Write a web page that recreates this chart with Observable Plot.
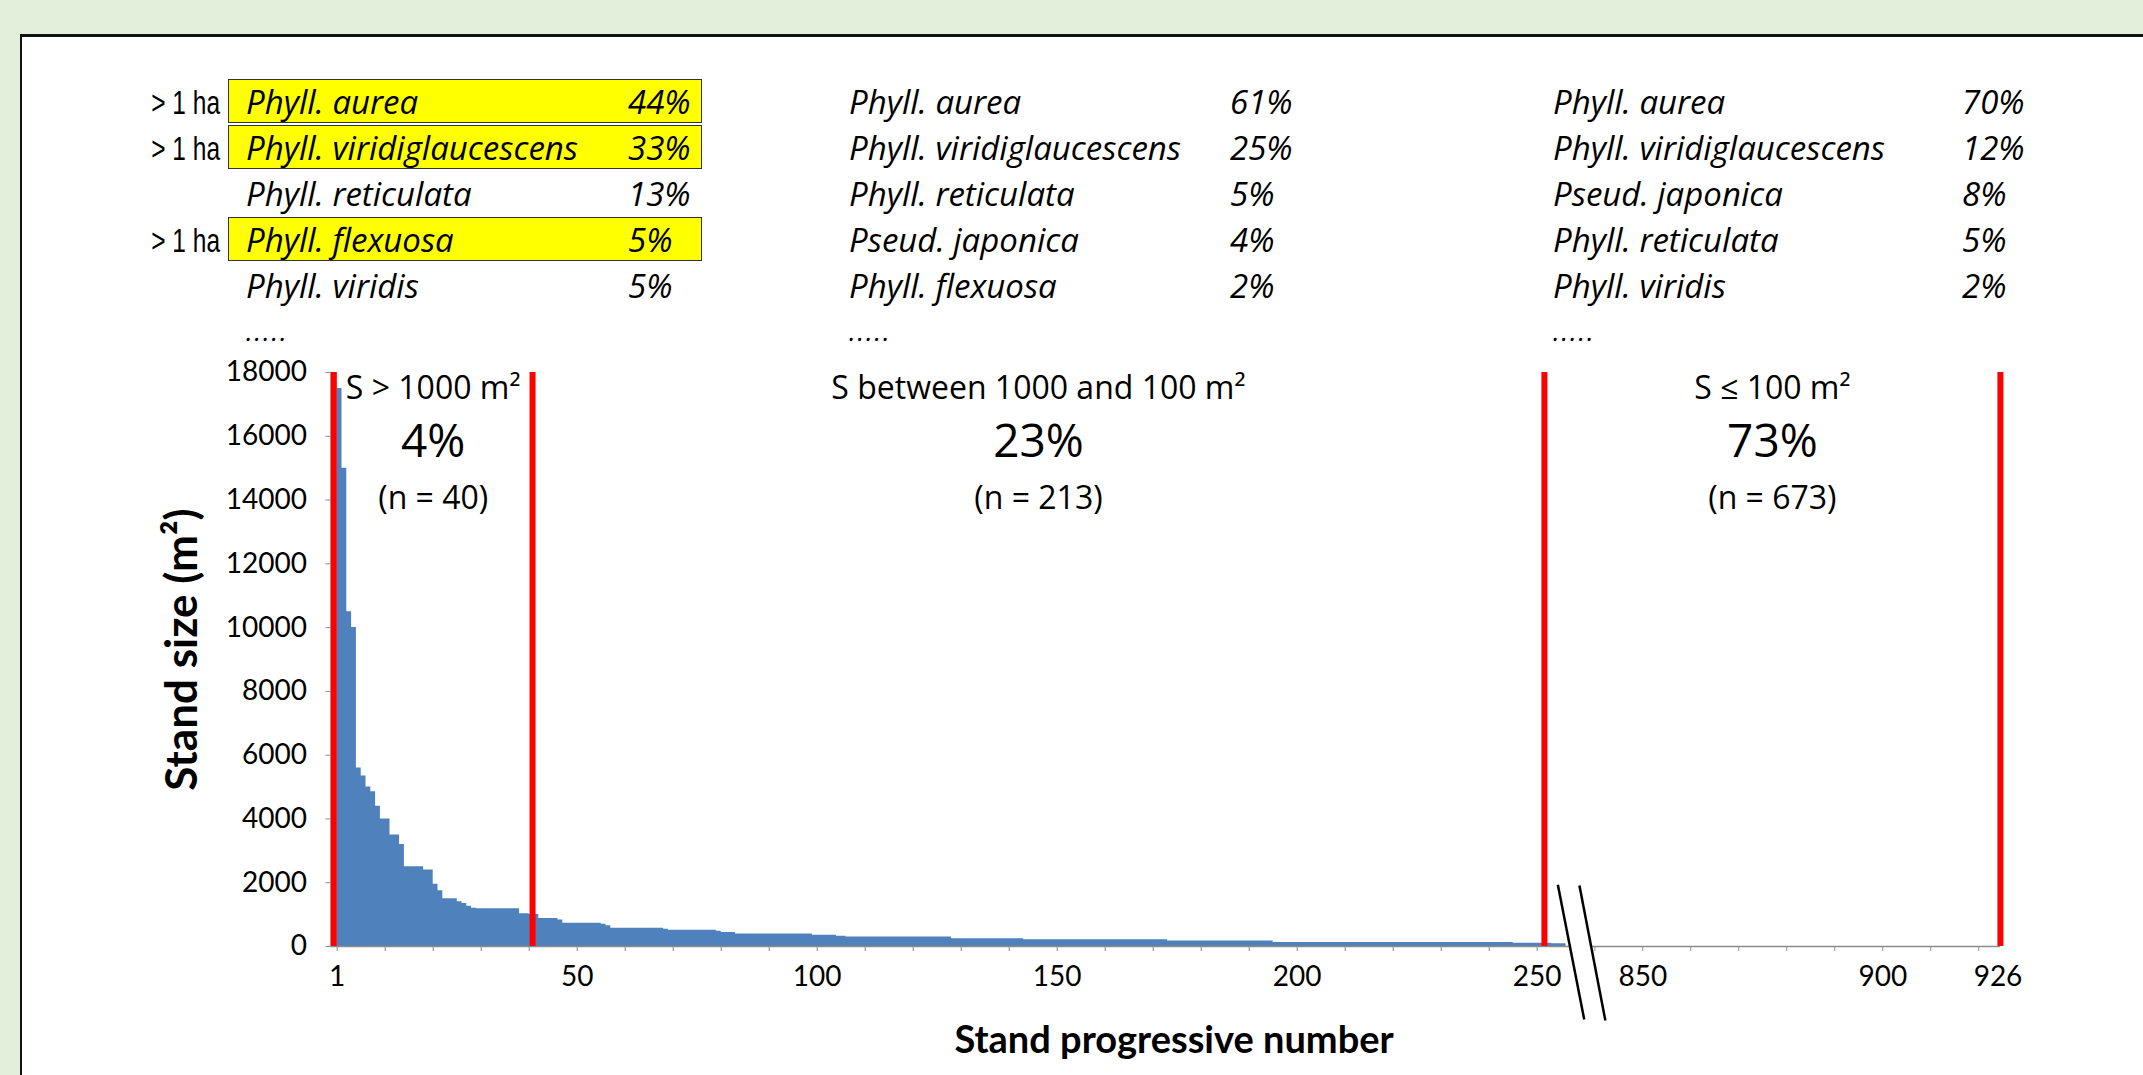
<!DOCTYPE html>
<html>
<head>
<meta charset="utf-8">
<script src="https://cdn.jsdelivr.net/npm/d3@7"></script>
<script src="https://cdn.jsdelivr.net/npm/@observablehq/plot@0.6"></script>
<style>
  html, body { margin: 0; padding: 0; background: #e2efda; width: 2143px; height: 1075px; overflow: hidden; }
  #stage { position: relative; width: 2143px; height: 1075px; }
  #panel { position: absolute; left: 20px; top: 34px; width: 2200px; height: 1100px; background: #fff;
           border-top: 3px solid #111; border-left: 2px solid #111; box-sizing: border-box; }
  #chart { position: absolute; left: 0; top: 0; }
  .cell { position: absolute; white-space: nowrap; font-family: "Open Sans", Lato, sans-serif; color: #000; }
  .sp { font-style: italic; font-size: 33px; line-height: 33px; }
  .dots { font-style: italic; font-size: 26px; line-height: 26px; letter-spacing: 2px; }
  .ha { font-family: "Liberation Sans", Arial, sans-serif; font-size: 34px; line-height: 34px; transform-origin: right center; }
  .box { position: absolute; background: #ffff00; border: 1.5px solid #333; box-sizing: border-box; }
</style>
</head>
<body>
<div id="stage">
  <div id="panel"></div>
  <div id="tables"></div>
  <div id="chart"></div>
</div>
<script>
// ---------------- data ----------------
// stand sizes (m²), sorted; each run starts at stand number stepStart[i] with size stepSize[i]
const stepStart = [1,2,3,4,5,6,7,8,9,10,12,14,15,19,21,22,23,26,27,28,29,30,39,41,43,47,48,56,57,58,69,70,80,81,84,100,105,107,129,144,174,196,246,254];
const stepSize  = [17500,15000,10500,10000,5600,5350,5000,4850,4400,4000,3500,3200,2500,2400,1950,1750,1500,1400,1350,1260,1200,1180,1030,1000,880,830,730,700,650,575,540,510,480,440,390,355,325,295,240,210,170,125,100,90];
const lastStandShown = 256;

// red class boundaries (stand number as read on the axis)
const redLineAt = [-0.7, 40.7, 251.5, 924.5];

// class annotations
const regionLabel = ["S > 1000 m²", "S between 1000 and 100 m²", "S \u2264 100 m²"];
const regionPct   = ["4%", "23%", "73%"];
const regionN     = ["(n = 40)", "(n = 213)", "(n = 673)"];

// axis ticks and labels
const yTicks = [0, 2000, 4000, 6000, 8000, 10000, 12000, 14000, 16000, 18000];
const xLabelText = ["1", "50", "100", "150", "200", "250", "850", "900", "926"];
const xLabelAt   = [0, 50, 100, 150, 200, 250, 850, 900, 924];
const xTickLeft  = d3.range(0, 251, 10);
const xTickRight = d3.range(840, 921, 10);
const rightOffset = 578;           // axis break: stands 257..~835 are skipped
const axisGap = [256.7, 261.2];    // gap in the axis line (axis units)
const breakMarks = [
  {x1: 254.3, y1: 1940, x2: 259.8, y2: -2290},
  {x1: 258.8, y1: 1910, x2: 264.2, y2: -2320}
];

// species composition tables
const sppLeft  = ["Phyll. aurea", "Phyll. viridiglaucescens", "Phyll. reticulata", "Phyll. flexuosa", "Phyll. viridis"];
const pctLeft  = ["44%", "33%", "13%", "5%", "5%"];
const bigLeft  = [true, true, false, true, false];
const sppMid   = ["Phyll. aurea", "Phyll. viridiglaucescens", "Phyll. reticulata", "Pseud. japonica", "Phyll. flexuosa"];
const pctMid   = ["61%", "25%", "5%", "4%", "2%"];
const sppRight = ["Phyll. aurea", "Phyll. viridiglaucescens", "Pseud. japonica", "Phyll. reticulata", "Phyll. viridis"];
const pctRight = ["70%", "12%", "8%", "5%", "2%"];

// ---------------- tables (HTML text) ----------------
const tables = document.getElementById("tables");
const rowBase = i => 114 + 46 * i;
function addCell(cls, txt, left, baseline, fs, transform) {
  const d = document.createElement("div");
  d.className = "cell " + cls;
  d.textContent = txt;
  d.style.left = left + "px";
  d.style.top = (baseline - 0.888 * fs) + "px";
  if (transform) d.style.transform = transform;
  tables.appendChild(d);
}
const tableCols = [
  {spp: sppLeft,  pct: pctLeft,  nameX: 246,  pctX: 628},
  {spp: sppMid,   pct: pctMid,   nameX: 849,  pctX: 1230},
  {spp: sppRight, pct: pctRight, nameX: 1553, pctX: 1962}
];
bigLeft.forEach((b, i) => {
  if (!b) return;
  const box = document.createElement("div");
  box.className = "box";
  box.style.left = "228px"; box.style.width = "474px";
  box.style.top = (rowBase(i) - 35) + "px"; box.style.height = "44px";
  tables.appendChild(box);
  addCell("ha", "> 1 ha", 220, rowBase(i) + 1, 34, "translateX(-100%) scaleX(0.72)");
});
tableCols.forEach(t => {
  t.spp.forEach((s, i) => {
    addCell("sp", s, t.nameX, rowBase(i), 33);
    addCell("sp", t.pct[i], t.pctX, rowBase(i), 33);
  });
  addCell("dots", ".....", t.nameX, rowBase(5) - 3, 26);
});

// ---------------- chart ----------------
const BLUE = "#4f81bd", RED = "#ff0000", AXIS = "#8c8c8c";
const OS = "'Open Sans', Lato, sans-serif";
const pos = v => (v > 500 ? v - rightOffset : v);
const xDomain = [-1.3, 350];

const steps = stepStart.map((s, i) => ({u: s - 1, size: stepSize[i]}));
steps.push({u: lastStandShown, size: stepSize[stepSize.length - 1]});

const regions = regionLabel.map((label, i) => ({
  label, pct: regionPct[i], n: regionN[i],
  cx: (pos(redLineAt[i]) + pos(redLineAt[i + 1])) / 2
}));
const xTickU = xTickLeft.concat(xTickRight.map(pos));

const chart = Plot.plot({
  width: 2143, height: 1075,
  marginLeft: 330.46, marginRight: 126.3, marginTop: 372, marginBottom: 129,
  style: {background: "transparent", fontFamily: "Lato, 'Open Sans', sans-serif", overflow: "visible", color: "#000"},
  x: {domain: xDomain, axis: null},
  y: {domain: [0, 18000], axis: null},
  marks: [
    Plot.areaY(steps, {x: "u", y: "size", curve: "step-after", fill: BLUE}),
    Plot.ruleX([xDomain[0]], {y1: () => 0, y2: () => 18000, stroke: AXIS, strokeWidth: 1.5}),
    Plot.ruleY([0], {x1: () => xDomain[0], x2: () => axisGap[0], stroke: AXIS, strokeWidth: 1.5}),
    Plot.ruleY([0], {x1: () => axisGap[1], x2: () => pos(redLineAt[3]), stroke: AXIS, strokeWidth: 1.5}),
    Plot.axisY({ticks: yTicks, tickSize: 5, tickPadding: 19, tickFormat: d3.format("d"),
                fontSize: 28, stroke: AXIS, fill: "#000", label: null}),
    Plot.axisX({ticks: xTickU, tickSize: 5, tickFormat: () => "", stroke: AXIS, label: null}),
    Plot.text(xLabelText, {x: (d, i) => pos(xLabelAt[i]), text: d => d, frameAnchor: "bottom",
                           dy: 31, lineAnchor: "middle", fontSize: 28, fill: "#000"}),
    Plot.ruleX(redLineAt, {x: pos, y1: () => 0, y2: () => 18000, stroke: RED, strokeWidth: 6}),
    Plot.link(breakMarks, {x1: "x1", y1: "y1", x2: "x2", y2: "y2", stroke: "#000", strokeWidth: 2.5}),
    Plot.text(regions, {x: "cx", text: "label", frameAnchor: "top", dy: 16, lineAnchor: "middle", fontSize: 32, fontFamily: OS, fill: "#000"}),
    Plot.text(regions, {x: "cx", text: "pct", frameAnchor: "top", dy: 70, lineAnchor: "middle", fontSize: 46, fontFamily: OS, fill: "#000"}),
    Plot.text(regions, {x: "cx", text: "n", frameAnchor: "top", dy: 126, lineAnchor: "middle", fontSize: 32, fontFamily: OS, fill: "#000"}),
    Plot.text(["Stand size (m²)"], {frameAnchor: "left", textAnchor: "middle", dx: -148.5, dy: -10, rotate: -90,
                                    lineAnchor: "middle", fontSize: 44, fontWeight: "bold", fill: "#000"}),
    Plot.text(["Stand progressive number"], {frameAnchor: "bottom", dy: 94, lineAnchor: "middle", fontSize: 38, fontWeight: "bold", fill: "#000"})
  ]
});
document.getElementById("chart").appendChild(chart);
</script>
</body>
</html>
